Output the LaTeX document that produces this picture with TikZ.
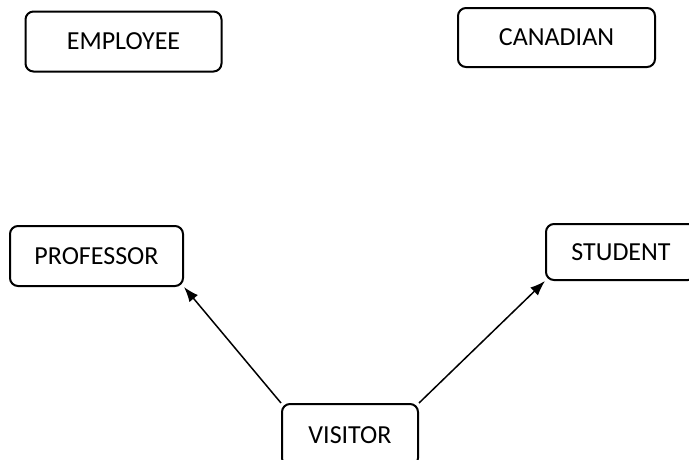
\documentclass[tikz,border=0pt]{standalone}
\usepackage{fontspec}
\setmainfont{Carlito}
\usetikzlibrary{arrows.meta}
\begin{document}
\begin{tikzpicture}[x=1pt,y=-1pt,
	box/.style={rectangle,draw,rounded corners=8pt,line width=2pt,
		font=\fontsize{26}{30}\selectfont,inner sep=0pt},
	isa/.style={-{Latex[length=15pt,width=11pt]},line width=1.5pt}]
\useasboundingbox (0,0) rectangle (689,459);
\clip (0,0) rectangle (689,459);
\node[box,minimum width=196pt,minimum height=60pt] (employee) at (123.5,41.5) {EMPLOYEE};
\node[box,minimum width=197pt,minimum height=59pt] (canadian) at (556.5,37.5) {CANADIAN};
\node[box,minimum width=173pt,minimum height=60pt] (professor) at (96.5,256) {PROFESSOR};
\node[box,minimum width=150pt,minimum height=56pt] (student) at (621,252) {STUDENT};
\node[box,minimum width=136pt,minimum height=62pt] (visitor) at (350,435) {VISITOR};
\draw[isa] (visitor.north west) -- (professor.south east);
\draw[isa] (visitor.north east) -- (student.south west);
\end{tikzpicture}
\end{document}
